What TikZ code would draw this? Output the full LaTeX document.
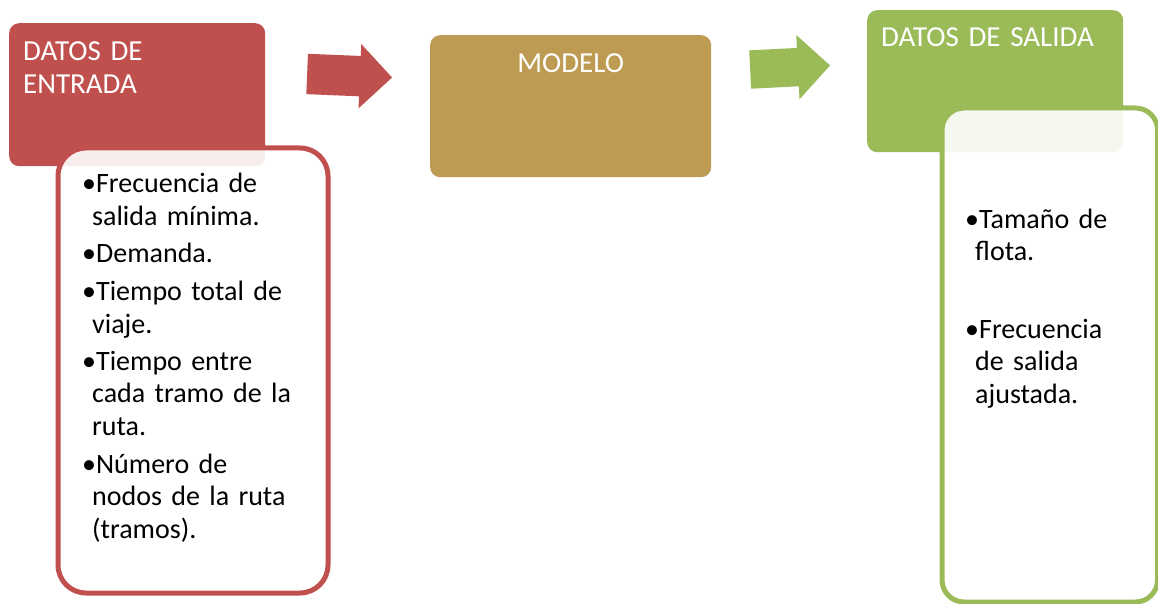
\documentclass[tikz,border=0pt]{standalone}
\usepackage{fontspec}
\setmainfont{Carlito}
\usetikzlibrary{shapes.arrows}
\definecolor{rojo}{HTML}{C0504D}
\definecolor{oliva}{HTML}{BE9B53}
\definecolor{verde}{HTML}{9BBB59}

\begin{document}
\begin{tikzpicture}[x=1pt, y=-1pt,
  hdr/.style={rounded corners=10pt, anchor=north west, inner sep=0pt},
  lista/.style={rounded corners=#1, anchor=north west, inner sep=0pt,
                line width=5pt, fill=white, fill opacity=0.9},
  hdrtxt/.style={text=white, font=\fontsize{29}{33}\selectfont,
                 inner sep=0pt, align=left, text width=250pt},
  itemtxt/.style={font=\fontsize{28}{32.5}\selectfont, inner sep=0pt,
                  align=left, text width=260pt, anchor=base west},
  flecha/.style={single arrow, inner xsep=0pt, inner ysep=20pt}
]
\useasboundingbox (0,0) rectangle (1158,604);
% Headers
\node[hdr, fill=rojo, minimum width=256pt, minimum height=143pt] (entrada) at (9,23) {};
\node[hdr, fill=oliva, minimum width=281pt, minimum height=142pt] (modelo) at (430,35) {};
\node[hdr, fill=verde, minimum width=256pt, minimum height=142pt] (salida) at (867,10) {};
\node[hdrtxt, anchor=base west] (entradatxt) at ([xshift=14pt,yshift=-38pt]entrada.north west) {DATOS DE\\ENTRADA};
\node[hdrtxt, text width=, align=center, anchor=base] (modelotxt) at ([yshift=-38pt]modelo.north) {MODELO};
\node[hdrtxt, anchor=base west] (salidatxt) at ([xshift=14pt,yshift=-37pt]salida.north west) {DATOS DE SALIDA};
% Lists
\node[lista=28pt, draw=rojo, minimum width=270pt, minimum height=445pt] (listaent) at (55.5,145.5) {};
\node[lista=22pt, draw=verde, minimum width=215.5pt, minimum height=494pt] (listasal) at (939.5,105.5) {};
\node[itemtxt] (itemsent) at (82,193) {%
  •Frecuencia de\\\hspace*{10pt}salida mínima.\\[5pt]
  •Demanda.\\[5pt]
  •Tiempo total de\\\hspace*{10pt}viaje.\\[5pt]
  •Tiempo entre\\\hspace*{10pt}cada tramo de la\\\hspace*{10pt}ruta.\\[5pt]
  •Número de\\\hspace*{10pt}nodos de la ruta\\\hspace*{10pt}(tramos).};
\node[itemtxt, text width=190pt] (itemssal) at (965,228) {%
  •Tamaño de\\\hspace*{10pt}flota.\\[45pt]
  •Frecuencia\\\hspace*{10pt}de salida\\\hspace*{10pt}ajustada.};
% Arrows
\node[flecha, fill=rojo, minimum height=85pt, single arrow head extend=12pt, rotate=-2.4] (flechaA) at (339.5,75.3) {};
\node[flecha, fill=verde, minimum height=80pt, inner ysep=19pt, single arrow head extend=13pt, rotate=2.9] (flechaB) at (780.5,68) {};
\end{tikzpicture}
\end{document}
